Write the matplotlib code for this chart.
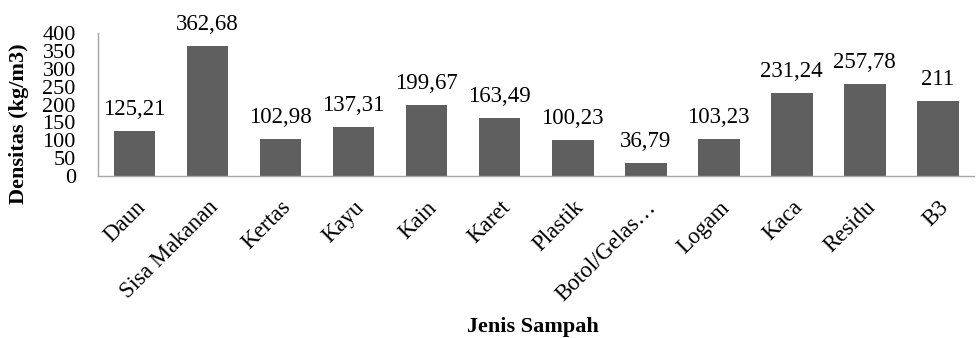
"""
Grafik batang densitas sampah per jenis.
Saída: out.png
"""
import matplotlib.pyplot as plt

kategori = ["Daun", "Sisa Makanan", "Kertas", "Kayu", "Kain", "Karet", "Plastik",
            "Botol/Gelas…", "Logam", "Kaca", "Residu", "B3"]
densitas = [125.21, 362.68, 102.98, 137.31, 199.67, 163.49, 100.23,
            36.79, 103.23, 231.24, 257.78, 211]
label_nilai = ["125,21", "362,68", "102,98", "137,31", "199,67", "163,49", "100,23",
               "36,79", "103,23", "231,24", "257,78", "211"]
yticks = [0, 50, 100, 150, 200, 250, 300, 350, 400]

FS = 16


def main() -> None:
    plt.rcParams["font.family"] = ["Liberation Serif", "DejaVu Serif"]

    fig = plt.figure(figsize=(9.77, 3.38), dpi=100)
    ax = fig.add_axes([0.1003, 0.479, 0.897, 0.423])

    x = range(len(kategori))
    bars = ax.bar(x, densitas, width=0.57, color="#5f5f5f")

    # label nilai di atas batang
    for bar, txt in zip(bars, label_nilai):
        ax.annotate(txt, (bar.get_x() + bar.get_width() / 2, bar.get_height()),
                    xytext=(0, 8), textcoords="offset points",
                    ha="center", va="bottom", fontsize=16.5)

    ax.set_xlim(-0.5, len(kategori) - 0.5)
    ax.set_ylim(0, 400)
    ax.set_yticks(yticks)
    ax.set_yticklabels([str(v) for v in yticks], fontsize=FS)
    ax.set_xticks(list(x))
    ax.set_xticklabels(kategori, rotation=45, ha="right", rotation_mode="anchor",
                       fontsize=16.5)
    ax.tick_params(axis="y", length=0, pad=16)
    ax.tick_params(axis="x", length=0, pad=15)

    for s in ["top", "right"]:
        ax.spines[s].set_visible(False)
    for s in ["left", "bottom"]:
        ax.spines[s].set_color("#a6a6a6")
        ax.spines[s].set_linewidth(1.0)

    ax.set_ylabel("Densitas (kg/m3)", fontsize=FS, fontweight="bold")
    ax.yaxis.set_label_coords(-0.079, 0.37)
    fig.text(0.545, 0.004, "Jenis Sampah", ha="center", va="bottom",
             fontsize=FS, fontweight="bold")

    fig.savefig("out.png")
    plt.close(fig)


if __name__ == "__main__":
    main()
